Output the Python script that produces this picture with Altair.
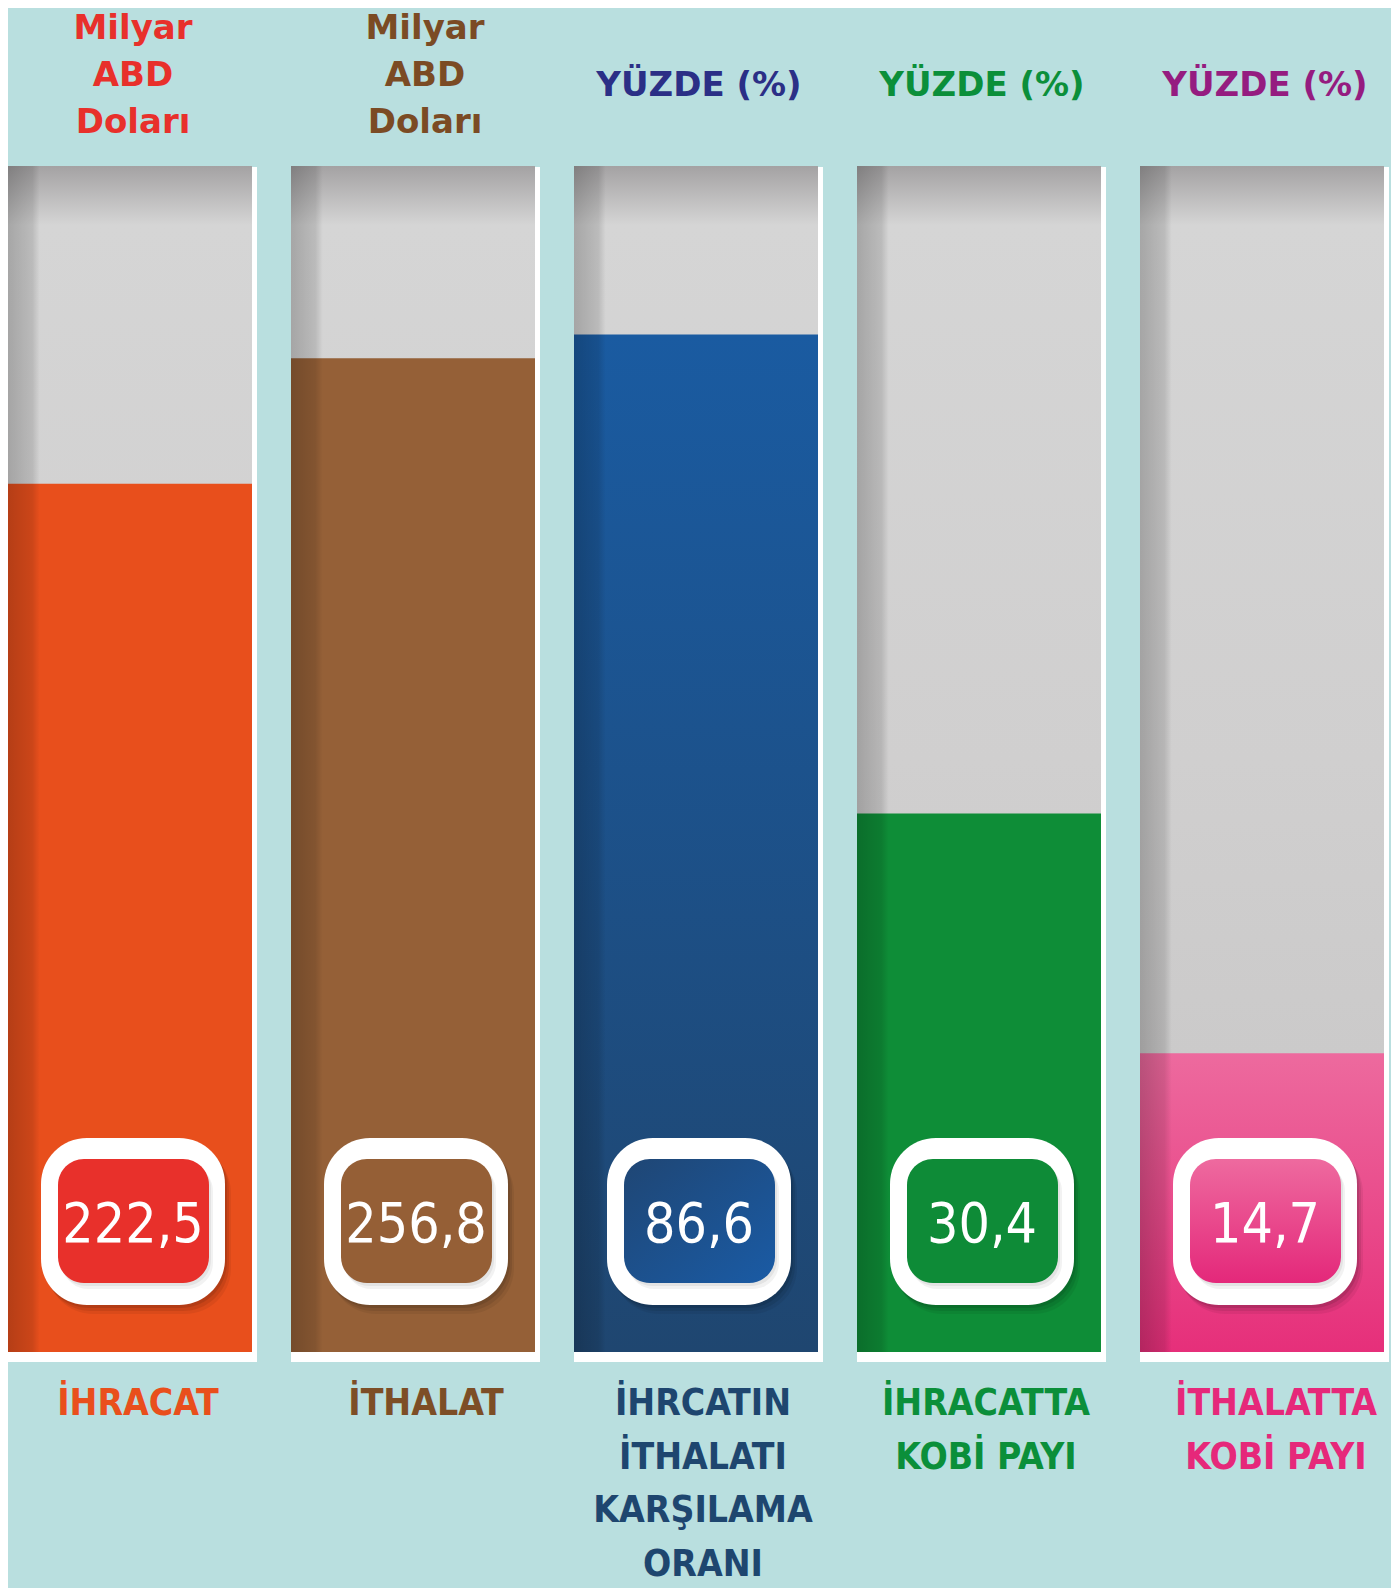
import altair as alt
import pandas as pd

# ---------------- data ----------------
categories = [
    "İHRACAT",
    "İTHALAT",
    "İHRCATIN\nİTHALATI\nKARŞILAMA\nORANI",
    "İHRACATTA\nKOBİ PAYI",
    "İTHALATTA\nKOBİ PAYI",
]
units = ["Milyar\nABD\nDoları", "Milyar\nABD\nDoları", "YÜZDE (%)", "YÜZDE (%)", "YÜZDE (%)"]
values = [222.5, 256.8, 86.6, 30.4, 14.7]
# share of the grey column that each coloured bar fills
fill_share = [0.732, 0.838, 0.858, 0.454, 0.252]

value_labels = [f"{v:.1f}".replace(".", ",") for v in values]

df = pd.DataFrame({
    "idx": list(range(len(categories))),
    "category": categories,
    "unit": units,
    "value": values,
    "label": value_labels,
    "share": fill_share,
})

# ---------------- styles ----------------
BG = "#b9dfdf"
HEAD_FONT = "'DejaVu Sans', sans-serif"
NARROW = "'DejaVu Sans Condensed', 'Liberation Sans Narrow', sans-serif"

header_colors = ["#e8302b", "#7b4b24", "#2b2f86", "#0b8f3a", "#951c80"]
label_colors = ["#e94f1c", "#7d4e26", "#1e466f", "#0b8f3a", "#e6287a"]
# horizontal centre of header / label text inside each column, in px from the column's left edge
header_dx = [125, 134, 125, 125, 125]
label_dx = [130, 135, 129, 129, 136]


def lin(stops, x1=0, y1=0, x2=0, y2=1):
    return alt.LinearGradient(
        gradient="linear",
        stops=[alt.GradientStop(color=c, offset=o) for o, c in stops],
        x1=x1, y1=y1, x2=x2, y2=y2,
    )


bar_fills = [
    "#e84f1c",
    "#956037",
    lin([(0, "#1a5ba1"), (1, "#1f4670")]),
    "#0e8d37",
    lin([(0, "#ed6a9e"), (1, "#e62f7a")]),
]
box_fills = [
    "#e8302b",
    "#955f36",
    lin([(0, "#1f4674"), (1, "#1a5ba5")], x1=0, y1=0, x2=1, y2=1),
    "#0e8b37",
    lin([(0, "#ee6a9f"), (1, "#e4287a")]),
]
gray_fill = lin([(0, "#a4a2a3"), (0.05, "#d5d5d5"), (0.5, "#d0cfcf"), (1, "#c6c5c5")])
shade_fill = lin([(0, "rgba(0,0,0,0.22)"), (0.10, "rgba(0,0,0,0.12)"), (0.13, "rgba(0,0,0,0)"),
                  (1, "rgba(0,0,0,0)")], x1=0, y1=0, x2=1, y2=0)

# ---------------- layout ----------------
W, H = 1383, 1580
STRIDE = 283
BAR_W, FRAME_W = 244, 249
TOP, BOTTOM = 158, 1344


def v(px):
    return (BOTTOM - px) / (BOTTOM - TOP)


xs = alt.Scale(domain=[0, W / STRIDE], nice=False, zero=False)
ys = alt.Scale(domain=[v(H), v(0)], nice=False, zero=False)

base = alt.Chart(df)


def band(x0, x1):
    return base.transform_calculate(
        xa=f"datum.idx + {x0 / STRIDE}",
        xb=f"datum.idx + {x1 / STRIDE}",
        full="1",
        zero="0",
    )


X = alt.X("xa:Q", scale=xs, axis=None)
X2 = alt.X2("xb:Q")
YF = alt.Y("full:Q", scale=ys, axis=None)
Y0 = alt.Y2("zero:Q")

layers = []
# white frame behind each column
layers.append(band(0, FRAME_W).mark_rect(color="white").encode(
    x=X, x2=X2, y=alt.value(TOP + 1), y2=alt.value(1354)))
# grey full-height column
layers.append(band(0, BAR_W).mark_rect(color=gray_fill).encode(x=X, x2=X2, y=YF, y2=Y0))
# coloured bars
for i in range(len(categories)):
    layers.append(band(0, BAR_W).transform_filter(f"datum.idx == {i}").mark_rect(
        color=bar_fills[i]).encode(x=X, x2=X2, y=alt.Y("share:Q", scale=ys, axis=None), y2=Y0))
# left edge shading
layers.append(band(0, BAR_W).mark_rect(color=shade_fill).encode(x=X, x2=X2, y=YF, y2=Y0))

# value boxes: outer white frame with soft shadow
for dx, dy, op in [(2, 3, 0.10), (4, 6, 0.08), (6, 9, 0.06)]:
    layers.append(band(33 + dx, 217 + dx).mark_rect(color="black", opacity=op, cornerRadius=46).encode(
        x=X, x2=X2, y=alt.value(1130 + dy), y2=alt.value(1297 + dy)))
layers.append(band(33, 217).mark_rect(color="white", cornerRadius=46).encode(
    x=X, x2=X2, y=alt.value(1130), y2=alt.value(1297)))
for dx, dy, op in [(2, 3, 0.06), (4, 6, 0.05)]:
    layers.append(band(50 + dx, 201 + dx).mark_rect(color="black", opacity=op, cornerRadius=26).encode(
        x=X, x2=X2, y=alt.value(1151 + dy), y2=alt.value(1275 + dy)))
for i in range(len(categories)):
    layers.append(band(50, 201).transform_filter(f"datum.idx == {i}").mark_rect(
        color=box_fills[i], cornerRadius=26).encode(
        x=X, x2=X2, y=alt.value(1151), y2=alt.value(1275)))

# value text
layers.append(base.transform_calculate(xc=f"datum.idx + {125 / STRIDE}").mark_text(
    font=NARROW, fontSize=55, color="white", baseline="alphabetic", align="center").encode(
    x=alt.X("xc:Q", scale=xs, axis=None), y=alt.value(1234), text="label:N"))

# headers and category labels
for i in range(len(categories)):
    head_y = 31 if "\n" in units[i] else 88
    layers.append(base.transform_filter(f"datum.idx == {i}").transform_calculate(
        xc=f"datum.idx + {header_dx[i] / STRIDE}").mark_text(
        font=HEAD_FONT, fontSize=34, fontWeight="bold", color=header_colors[i],
        baseline="alphabetic", align="center", lineBreak="\n", lineHeight=47).encode(
        x=alt.X("xc:Q", scale=xs, axis=None), y=alt.value(head_y), text="unit:N"))
    layers.append(base.transform_filter(f"datum.idx == {i}").transform_calculate(
        xc=f"datum.idx + {label_dx[i] / STRIDE}").mark_text(
        font=NARROW, fontSize=37, fontWeight="bold", color=label_colors[i],
        baseline="alphabetic", align="center", lineBreak="\n", lineHeight=53.5).encode(
        x=alt.X("xc:Q", scale=xs, axis=None), y=alt.value(1407), text="category:N"))

chart = alt.layer(*layers).properties(
    width=W, height=H, padding=0,
    autosize=alt.AutoSizeParams(type="none"),
    background=BG,
).configure_view(stroke=None)

chart.save("out.html", embed_options={"renderer": "svg", "actions": False})
